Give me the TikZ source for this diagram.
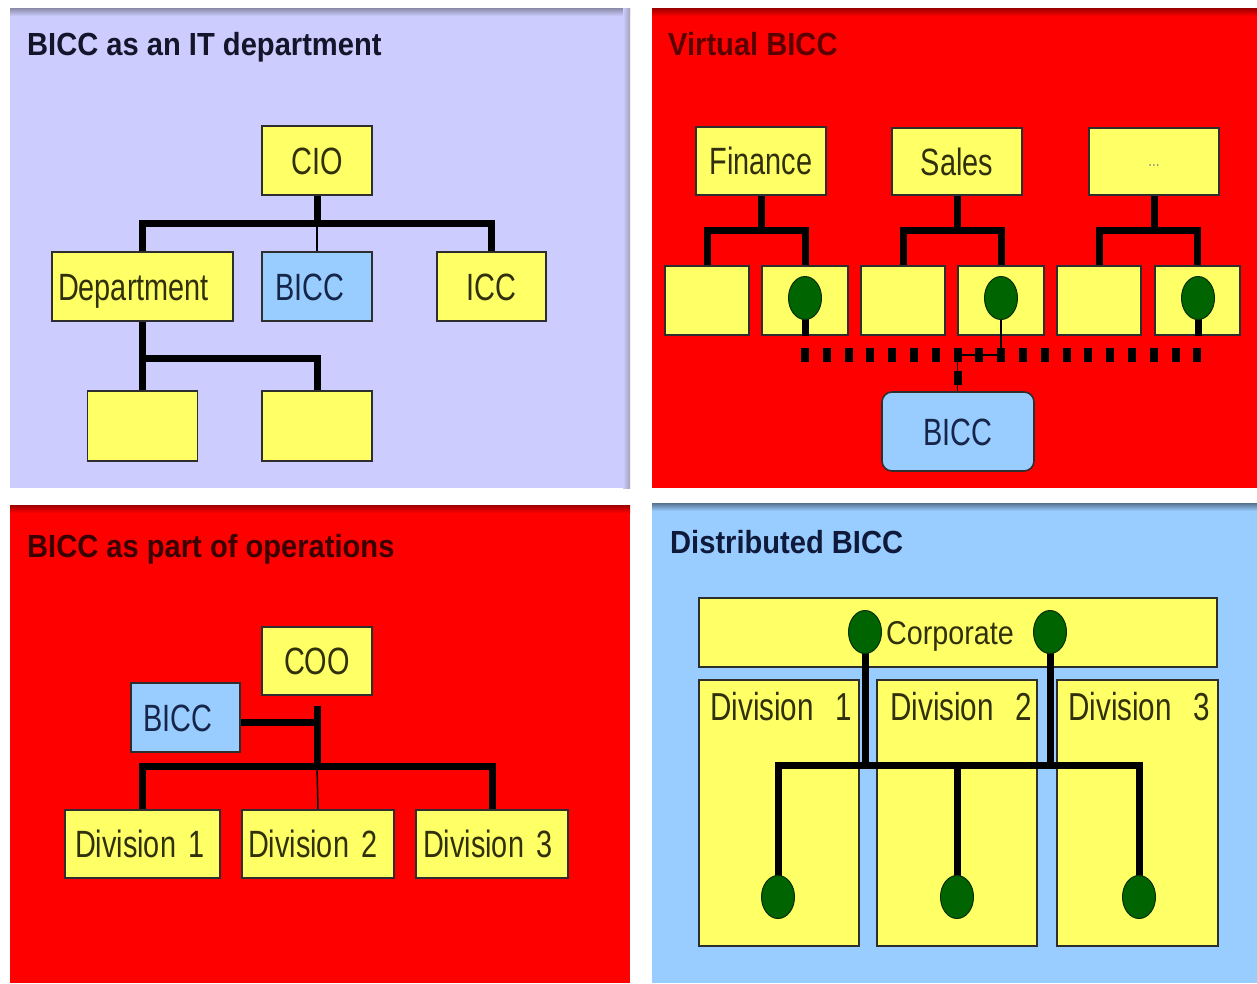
\documentclass[tikz,border=0pt]{standalone}
\usepackage{fontspec}
\setmainfont{Liberation Sans}
\newfontfamily\boxfont[FakeStretch=0.76]{Liberation Sans}
\newfontfamily\corpfont[FakeStretch=0.87]{Liberation Sans}
\newfontfamily\headfont[FakeStretch=0.91]{Liberation Sans}
\usetikzlibrary{shapes.geometric}

\definecolor{lav}{HTML}{CCCCFF}
\definecolor{lavedge}{HTML}{8A8AA6}
\definecolor{redpanel}{HTML}{FF0000}
\definecolor{rededge}{HTML}{9A0000}
\definecolor{bluepanel}{HTML}{99CCFF}
\definecolor{blueedge}{HTML}{56708F}
\definecolor{boxyellow}{HTML}{FFFF66}
\definecolor{boxblue}{HTML}{99CCFF}
\definecolor{edge}{HTML}{2E2E2E}
\definecolor{ink}{HTML}{30300C}
\definecolor{inkblue}{HTML}{16264A}
\definecolor{leaf}{HTML}{006400}
\definecolor{leafedge}{HTML}{0A300A}
\definecolor{headnavy}{HTML}{14142A}
\definecolor{headmaroon}{HTML}{5A0000}
\definecolor{headdark}{HTML}{3A0000}
\definecolor{headblue}{HTML}{0F1A3A}

\begin{document}
\begin{tikzpicture}[x=1pt,y=-1pt,
  ybox/.style={draw=edge, line width=1.6pt, fill=boxyellow, inner sep=0pt,
    text=ink, text height=27pt, text depth=0pt,
    font=\boxfont\fontsize{38}{42}\selectfont},
  bbox/.style={ybox, fill=boxblue, text=inkblue},
  sz/.style 2 args={minimum width=#1, minimum height=#2},
  title/.style={anchor=base west, inner sep=0pt,
    font=\headfont\bfseries\fontsize{32}{36}\selectfont},
  lbl/.style={anchor=base west, inner sep=0pt, text=ink,
    font=\boxfont\fontsize{39}{42}\selectfont},
  bar/.style={line width=7pt, line cap=butt, line join=miter, black},
  thinline/.style={line width=1.5pt, black},
  dotrow/.style={line width=14pt, line cap=butt, black, dash pattern=on 8pt off 13.8pt},
  dotcol/.style={line width=8pt, line cap=butt, black, dash pattern=on 14pt off 9pt},
  leafdot/.style={ellipse, draw=leafedge, line width=1pt, fill=leaf,
    minimum width=33pt, minimum height=43pt, inner sep=0pt}
]
\useasboundingbox (0,0) rectangle (1257,983);
\fill[white] (0,0) rectangle (1257,983);

% ---------- panels ----------
\fill[lav] (10,8) rectangle (630,488);
\shade[top color=lavedge, bottom color=lav] (10,8) rectangle (630,16);
\shade[left color=lav, right color=lavedge!80] (623,8) rectangle (630,488);

\fill[redpanel] (652,8) rectangle (1257,488);
\shade[top color=rededge, bottom color=redpanel] (652,8) rectangle (1257,16);

\fill[redpanel] (10,505) rectangle (630,983);
\shade[top color=rededge, bottom color=redpanel] (10,505) rectangle (630,513);

\fill[bluepanel] (652,503) rectangle (1257,983);
\shade[top color=blueedge, bottom color=bluepanel] (652,503) rectangle (1257,511);

% ---------- titles ----------
\node[title, text=headnavy] (t1) at (27,55) {BICC as an IT department};
\node[title, text=headmaroon] (t2) at (668,55) {Virtual BICC};
\node[title, text=headdark] (t3) at (27,557) {BICC as part of operations};
\node[title, text=headblue] (t4) at (670,553) {Distributed BICC};

% ---------- BICC as an IT department ----------
\node[ybox, sz={110pt}{69pt}] (cio) at (317,160.5) {CIO};
\node[ybox, text width=169pt, inner xsep=6pt, minimum height=69pt, align=left]
  (dept) at (142.5,286.5) {Department};
\node[bbox, text width=98pt, inner xsep=6pt, minimum height=69pt, align=left]
  (bicc1) at (317,286.5) {\hspace*{7pt}BICC};
\node[ybox, sz={109pt}{69pt}] (icc) at (491.5,286.5) {ICC};
\node[ybox, sz={110pt}{70pt}] (c1) at (142.5,426) {};
\node[ybox, sz={110pt}{70pt}] (c2) at (317,426) {};

\draw[bar] (cio.south) -- (cio.south |- 0,223);
\draw[bar] (dept.north) |- (icc.north |- 0,223) -- (icc.north);
\draw[thinline] (cio.south |- 0,223) -- (bicc1.north);
\draw[bar] (dept.south) -- (c1.north);
\draw[bar] (dept.south |- 0,358) -| (c2.north);

% ---------- Virtual BICC ----------
\node[ybox, sz={130pt}{68pt}] (fin) at (761,161) {Finance};
\node[ybox, sz={130pt}{67pt}] (sales) at (957,161.5) {Sales};
\node[ybox, sz={130pt}{67pt}, text height=10pt, font=\boxfont\fontsize{18}{20}\selectfont, text=ink!55]
  (more) at (1154,161.5) {...};

\node[ybox, sz={84pt}{69pt}] (b1) at (707,300.5) {};
\node[ybox, sz={86pt}{69pt}] (b2) at (805,300.5) {};
\node[ybox, sz={84pt}{69pt}] (b3) at (903,300.5) {};
\node[ybox, sz={86pt}{69pt}] (b4) at (1001,300.5) {};
\node[ybox, sz={84pt}{69pt}] (b5) at (1099,300.5) {};
\node[ybox, sz={85pt}{69pt}] (b6) at (1197.5,300.5) {};

\node[bbox, sz={152pt}{79pt}, rounded corners=10pt] (bicc3) at (958,431.5) {BICC};

\draw[bar] (fin.south) -- (fin.south |- 0,230);
\draw[bar] (b1.north) |- (b2.north |- 0,230) -- (b2.north);
\draw[bar] (sales.south) -- (sales.south |- 0,230);
\draw[bar] (b3.north) |- (b4.north |- 0,230) -- (b4.north);
\draw[bar] (more.south) -- (more.south |- 0,230);
\draw[bar] (b5.north) |- (b6.north |- 0,230) -- (b6.north);

\coordinate (e2c) at (805,298);
\coordinate (e4c) at (1001,298);
\coordinate (e6c) at (1198,298);
\coordinate (dl) at (801,355);
\coordinate (dr) at (1202,355);
\coordinate (hub) at (957.6,355);

\draw[bar] (e2c) -- (e2c |- b2.south);
\draw[bar] (e6c) -- (e6c |- b6.south);
\draw[thinline] (e4c) |- (hub);

\draw[dotrow] (dl) -- (dr);
\draw[dotcol] (hub |- 0,348) -- (hub |- bicc3.north);
\draw[thinline] (hub) -- (hub |- bicc3.north);

\node[leafdot] (e2) at (e2c) {};
\node[leafdot] (e4) at (e4c) {};
\node[leafdot] (e6) at (e6c) {};

% ---------- BICC as part of operations ----------
\node[ybox, sz={110pt}{68pt}] (coo) at (317,661) {COO};
\node[bbox, text width=97pt, inner xsep=6pt, minimum height=69pt, align=left]
  (bicc2) at (185.5,717.5) {\hspace*{6pt}BICC};
\node[ybox, text width=135pt, inner xsep=10pt, minimum height=68pt, align=left]
  (d1) at (142.5,844) {Division 1};
\node[ybox, text width=140pt, inner xsep=6pt, minimum height=68pt, align=left]
  (d2) at (318,844) {Division 2};
\node[ybox, text width=138pt, inner xsep=7pt, minimum height=68pt, align=left]
  (d3) at (492,844) {Division 3};

\draw[bar] (coo.south |- 0,706) -- (coo.south |- 0,766);
\draw[bar] (bicc2.east |- 0,722) -- (coo.south |- 0,722);
\draw[bar] (d1.north) |- (d3.north |- 0,766) -- (d3.north);
\draw[thinline] (coo.south |- 0,766) -- (d2.north);

% ---------- Distributed BICC ----------
\node[ybox, sz={518pt}{69pt}, text height=23pt, font=\corpfont\fontsize{33}{36}\selectfont]
  (corp) at (958,632.5) {\hspace*{-16pt}Corporate};
\node[ybox, sz={160pt}{266pt}] (bd1) at (779,813) {};
\node[ybox, sz={160pt}{266pt}] (bd2) at (957,813) {};
\node[ybox, sz={161pt}{266pt}] (bd3) at (1137.5,813) {};
\node[lbl] (l1) at (710,720) {Division~\hspace{13pt}1};
\node[lbl] (l2) at (890,720) {Division~\hspace{13pt}2};
\node[lbl] (l3) at (1068,720) {Division~\hspace{13pt}3};

\coordinate (ec1c) at (865,632);
\coordinate (ec2c) at (1050,632);
\coordinate (ed1c) at (778,897);
\coordinate (ed2c) at (957,897);
\coordinate (ed3c) at (1139,897);

\draw[bar] (ec1c) -- (ec1c |- 0,765);
\draw[bar] (ec2c) -- (ec2c |- 0,765);
\draw[bar] (ed1c) |- (ed3c |- 0,765) -- (ed3c);
\draw[bar] (ed2c) -- (ed2c |- 0,765);

\node[leafdot] (ec1) at (ec1c) {};
\node[leafdot] (ec2) at (ec2c) {};
\node[leafdot] (ed1) at (ed1c) {};
\node[leafdot] (ed2) at (ed2c) {};
\node[leafdot] (ed3) at (ed3c) {};
\end{tikzpicture}
\end{document}
